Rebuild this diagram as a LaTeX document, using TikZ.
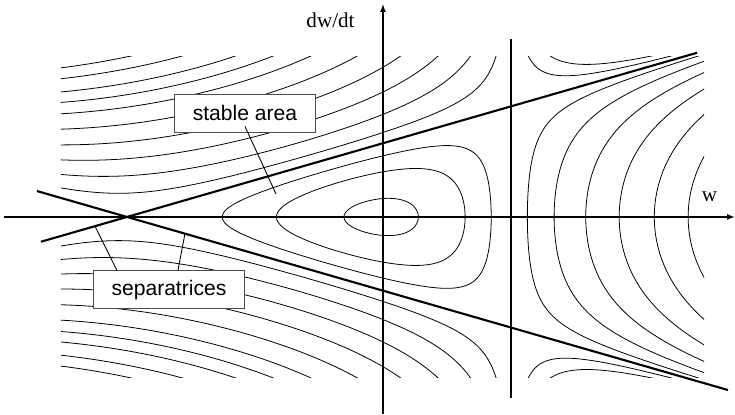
\documentclass[tikz,border=0pt]{standalone}
\usepackage{fontspec}
\setmainfont{Liberation Serif}
\setsansfont{Liberation Sans}
\usetikzlibrary{arrows.meta,positioning}

\begin{document}
\begin{tikzpicture}[
    x=2.56cm, y=2.56cm,
    declare function={Yp(\xx,\cc)=0.288*sqrt(max(0,(\xx+2)*(\xx+2)-(\cc)/(1-\xx)));},
    orbit/.style={line width=0.45pt},
    sepline/.style={line width=1.2pt},
    axis/.style={line width=0.8pt, -{Latex[length=1.6mm,width=1.2mm]}},
    lbl/.style={draw=black!70, line width=0.5pt, fill=white, font=\sffamily\fontsize{12}{14}\selectfont, inner xsep=0.37cm, minimum height=0.76cm},
    pointer/.style={line width=0.5pt},
    axlabel/.style={font=\fontsize{12}{14}\selectfont, anchor=base, inner sep=0pt}
]
\useasboundingbox (-2.992,-1.547) rectangle (2.75,1.695);
\begin{scope}
\clip (-2.516,-1.254) rectangle (2.508,1.254);
\foreach \lev in {-1.25,-3.75,-7.5,-12.5,-19,-26.6,-33,-39.5,-48.5,-56.6} {
  \draw[orbit] plot[domain=-2.55:0.985, samples=350] (\x,{min(1.4,Yp(\x,\lev))});
  \draw[orbit] plot[domain=-2.55:0.985, samples=350] (\x,{-min(1.4,Yp(\x,\lev))});
}
\foreach \lev/\r in {-1.25/1.1278,-3.75/1.3368,-7.5/1.5839,-12.5/1.8453,-19/2.1196,-26.6/2.384} {
  \draw[orbit] plot[variable=\t, domain=-1.2:1.2, samples=161] ({\r+\t*\t},{(\t<0 ? -1 : 1)*Yp(\r+\t*\t,\lev)});
}
\foreach \lev in {1.25,2.5} {
  \draw[orbit] plot[domain=1.06:2.55, samples=200] (\x,{min(1.4,Yp(\x,\lev))});
  \draw[orbit] plot[domain=1.06:2.55, samples=200] (\x,{-min(1.4,Yp(\x,\lev))});
}
\foreach \lev/\a/\b in {1.25/-1.2556/0.8456, 2.5/-0.8317/0.6418, 3.75/-0.3046/0.2763} {
  \draw[orbit] plot[variable=\t, domain=0:360, samples=181] ({(\a+\b)/2+(\b-(\a))/2*cos(\t)},{(\t<=180 ? 1 : -1)*Yp((\a+\b)/2+(\b-(\a))/2*cos(\t),\lev)}) -- cycle;
}
\end{scope}

\draw[axis] (-2.961,0) -- (2.75,0);
\draw[axis] (0,-1.539) -- (0,1.664);
\draw[line width=0.9pt] (1,-1.414) -- (1,1.39);
\draw[sepline] (-2.672,-0.1935) -- (2.453,1.2825);
\draw[sepline] (-2.703,0.2025) -- (2.695,-1.352);

\node[axlabel] (dwdt) at (-0.41,1.477) {dw/dt};
\node[axlabel] (wlab) at (2.551,0.117) {w};

\node[lbl] (stab) at (-1.078,0.8125) {stable area};
\node[lbl] (sepx) at (-1.672,-0.570) {separatrices};
\coordinate (stabtip) at (-0.836,0.18);
\coordinate (septip1) at (-2.25,-0.072);
\coordinate (septip2) at (-1.547,-0.1305);
\draw[pointer] ([yshift=0.12cm]stab.south) -- (stabtip);
\draw[pointer] ([xshift=-1.04cm]sepx.north) -- (septip1);
\draw[pointer] ([xshift=0.18cm]sepx.north) -- (septip2);
\end{tikzpicture}
\end{document}
